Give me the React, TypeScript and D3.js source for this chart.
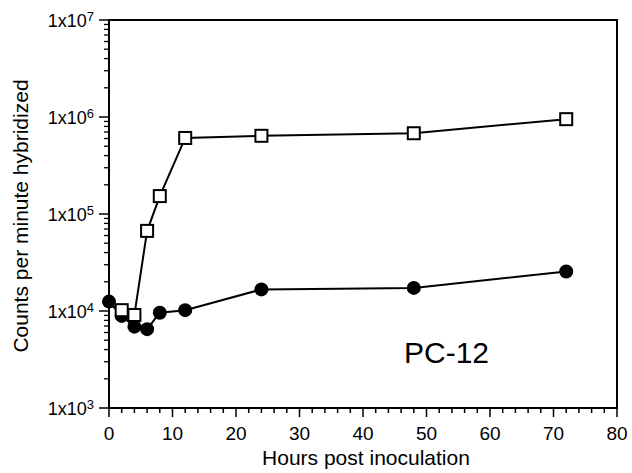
import { useEffect, useRef } from 'react';
import * as d3 from 'd3';

const hours = [0, 2, 4, 6, 8, 12, 24, 48, 72];
const squareCounts = [11500, 10200, 9100, 67000, 153000, 608000, 640000, 680000, 950000];
const circleCounts = [12500, 8900, 6900, 6500, 9600, 10200, 16700, 17300, 25500];
const xTicks = [0, 10, 20, 30, 40, 50, 60, 70, 80];
const yExponents = [3, 4, 5, 6, 7];

const App = () => {
  const svgRef = useRef<SVGSVGElement>(null);

  useEffect(() => {
    if (!svgRef.current) return;
    const svg = d3.select(svgRef.current);
    svg.selectAll('*').remove();

    const left = 109, right = 617, top = 20, bottom = 408;
    const font = '"Liberation Sans", Arial, Helvetica, sans-serif';

    const x = d3.scaleLinear().domain([0, 80]).range([left, right]);
    const y = d3.scaleLog().domain([1e3, 1e7]).range([bottom, top]);

    // frame
    svg.append('rect')
      .attr('x', left).attr('y', top)
      .attr('width', right - left).attr('height', bottom - top)
      .attr('fill', 'none').attr('stroke', '#000').attr('stroke-width', 2);

    // x ticks
    const minorX = d3.range(0, 81, 2);
    svg.append('g').selectAll('line')
      .data(minorX)
      .enter().append('line')
      .attr('x1', d => x(d)).attr('x2', d => x(d))
      .attr('y1', bottom).attr('y2', d => bottom + (d % 10 === 0 ? 9 : 5))
      .attr('stroke', '#000').attr('stroke-width', 1.5);

    svg.append('g').selectAll('text')
      .data(xTicks)
      .enter().append('text')
      .attr('x', d => x(d)).attr('y', 440)
      .attr('text-anchor', 'middle')
      .style('font-family', font).style('font-size', '19px')
      .text(d => d);

    // y ticks (log, with minors)
    const minorY: number[] = [];
    yExponents.slice(0, -1).forEach(e => {
      for (let m = 2; m <= 9; m++) minorY.push(m * Math.pow(10, e));
    });
    svg.append('g').selectAll('line')
      .data(minorY)
      .enter().append('line')
      .attr('x1', left).attr('x2', left - 5)
      .attr('y1', d => y(d)).attr('y2', d => y(d))
      .attr('stroke', '#000').attr('stroke-width', 1.3);
    svg.append('g').selectAll('line')
      .data(yExponents)
      .enter().append('line')
      .attr('x1', left).attr('x2', left - 10)
      .attr('y1', d => y(Math.pow(10, d))).attr('y2', d => y(Math.pow(10, d)))
      .attr('stroke', '#000').attr('stroke-width', 1.5);

    const yl = svg.append('g').selectAll('text')
      .data(yExponents)
      .enter().append('text')
      .attr('x', 94).attr('y', d => y(Math.pow(10, d)) + 7)
      .attr('text-anchor', 'end')
      .style('font-family', font).style('font-size', '18px');
    yl.append('tspan').text('1x10');
    yl.append('tspan').attr('dy', -6).style('font-size', '13px').text(d => d);

    // axis titles
    svg.append('text')
      .attr('x', 366).attr('y', 465)
      .attr('text-anchor', 'middle')
      .style('font-family', font).style('font-size', '21px')
      .text('Hours post inoculation');
    svg.append('text')
      .attr('transform', 'rotate(-90)')
      .attr('x', -216).attr('y', 28)
      .attr('text-anchor', 'middle')
      .style('font-family', font).style('font-size', '21px')
      .text('Counts per minute hybridized');

    const line = d3.line<number>()
      .x((_, i) => x(hours[i]))
      .y(d => y(d));

    // circles
    svg.append('path').datum(circleCounts)
      .attr('d', line).attr('fill', 'none').attr('stroke', '#000').attr('stroke-width', 2);
    svg.append('g').selectAll('circle')
      .data(circleCounts)
      .enter().append('circle')
      .attr('cx', (_, i) => x(hours[i])).attr('cy', d => y(d))
      .attr('r', 7).attr('fill', '#000');

    // squares
    const s = 12;
    svg.append('path').datum(squareCounts)
      .attr('d', line).attr('fill', 'none').attr('stroke', '#000').attr('stroke-width', 2);
    svg.append('g').selectAll('rect')
      .data(squareCounts.slice(1))
      .enter().append('rect')
      .attr('x', (_, i) => x(hours[i + 1]) - s / 2).attr('y', d => y(d) - s / 2)
      .attr('width', s).attr('height', s)
      .attr('fill', '#fff').attr('stroke', '#000').attr('stroke-width', 2);

    svg.append('text')
      .attr('x', 404).attr('y', 363)
      .style('font-family', font).style('font-size', '30px')
      .text('PC-12');
  }, []);

  return (
    <svg ref={svgRef} width={632} height={473}
      style={{ position: 'absolute', left: 0, top: 0, background: '#fff' }} />
  );
};

export default App;
